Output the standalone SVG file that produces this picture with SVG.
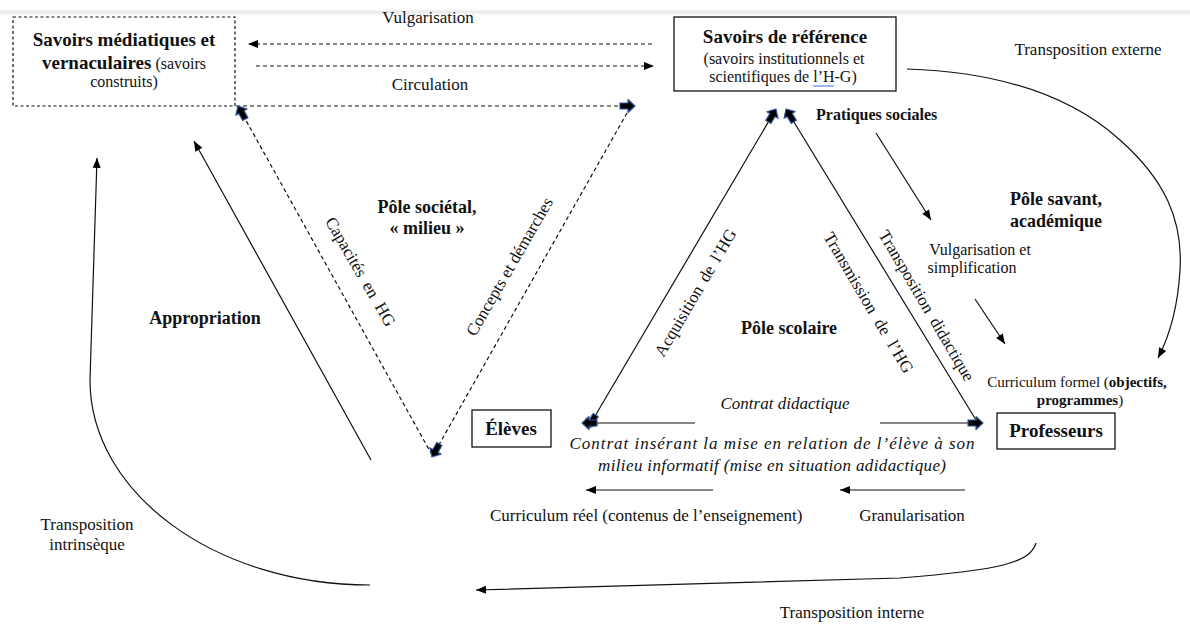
<svg xmlns="http://www.w3.org/2000/svg" width="1190" height="624" viewBox="0 0 1190 624">
<defs>
<linearGradient id="band" x1="0" y1="0" x2="0" y2="1">
<stop offset="0" stop-color="#ffffff"/>
<stop offset="0.4" stop-color="#e9e9e9"/>
<stop offset="1" stop-color="#ffffff"/>
</linearGradient>
<marker id="fat" markerUnits="userSpaceOnUse" markerWidth="20" markerHeight="16" viewBox="-1 -8 18 16" refX="15" refY="0" orient="auto-start-reverse">
<path d="M0,-3 L8,-3 L8,-6.5 L15,0 L8,6.5 L8,3 L0,3 Z" fill="#000" stroke="#35589a" stroke-width="1.2" stroke-linejoin="round"/>
</marker>
<marker id="tri" markerUnits="userSpaceOnUse" markerWidth="12" markerHeight="10" viewBox="0 -5 11 10" refX="10" refY="0" orient="auto">
<path d="M0,-4 L10,0 L0,4 Z" fill="#000"/>
</marker>
<style>
text{font-family:"Liberation Serif","Times New Roman",serif;fill:#111;}
.b{font-weight:bold;}
.t19{font-size:19px;}
.t18{font-size:18px;}
.t17{font-size:17px;}
.t16{font-size:16px;}
.t15{font-size:15px;}
.i{font-style:italic;}
.m{text-anchor:middle;}
.ln{fill:none;stroke:#111;stroke-width:1.2;}
.dsh{fill:none;stroke:#111;stroke-width:1.2;stroke-dasharray:4 3;}
.box{fill:#fff;stroke:#111;stroke-width:1.3;}
</style>
</defs>
<rect width="1190" height="624" fill="#fff"/>
<rect x="0" y="9" width="1190" height="7" fill="url(#band)"/>

<g id="connectors">
<!-- top dashed arrows -->
<line class="dsh" x1="652" y1="44" x2="248" y2="44" marker-end="url(#tri)"/>
<line class="dsh" x1="256" y1="66" x2="654" y2="66" marker-end="url(#tri)"/>
<!-- dashed triangle -->
<line class="dsh" x1="236" y1="106" x2="635" y2="106" marker-end="url(#fat)"/>
<line class="dsh" x1="432" y1="455" x2="238" y2="106" marker-end="url(#fat)"/>
<line class="dsh" x1="627" y1="113" x2="432" y2="457" marker-end="url(#fat)"/>
<!-- solid triangle -->
<line class="ln" x1="588" y1="428" x2="776" y2="109" marker-start="url(#fat)" marker-end="url(#fat)"/>
<line class="ln" x1="976" y1="420" x2="786" y2="109" marker-end="url(#fat)"/>
<line class="ln" x1="695" y1="423" x2="582" y2="423" marker-end="url(#fat)"/>
<line class="ln" x1="880" y1="423" x2="983" y2="423" marker-end="url(#fat)"/>
<!-- lower arrows -->
<line class="ln" x1="713" y1="490" x2="586" y2="490" marker-end="url(#tri)"/>
<line class="ln" x1="965" y1="490" x2="840" y2="490" marker-end="url(#tri)"/>
<!-- right side arrows -->
<line class="ln" x1="876" y1="133" x2="931" y2="220" marker-end="url(#tri)"/>
<line class="ln" x1="975" y1="299" x2="1005" y2="344" marker-end="url(#tri)"/>
<!-- transposition externe -->
<path class="ln" d="M907,69 C1000,72 1070,95 1120,140 C1165,180 1183,220 1180,270 C1178,305 1170,335 1158,358" marker-end="url(#tri)"/>
<!-- transposition interne -->
<path class="ln" d="M1036,543 C1030,563 1000,570 900,578 L476,590" marker-end="url(#tri)"/>
<!-- appropriation -->
<line class="ln" x1="371" y1="460" x2="194" y2="141" marker-end="url(#tri)"/>
<!-- transposition intrinseque -->
<path class="ln" d="M370,585 C215,585 90,493 90,380 L97,158" marker-end="url(#tri)"/>
</g>

<g id="node-mediatiques">
<rect x="13" y="17" width="222" height="89" fill="#fff" stroke="#111" stroke-width="1.2" stroke-dasharray="3 2.5"/>
<text class="b t19 m" x="124" y="46">Savoirs médiatiques et</text>
<text class="m" x="124" y="69"><tspan class="b t19">vernaculaires</tspan><tspan class="t16"> (savoirs</tspan></text>
<text class="t16 m" x="124" y="87">construits)</text>
</g>

<g id="node-reference">
<rect class="box" x="674" y="17" width="222" height="74"/>
<text class="b t19 m" x="785" y="43">Savoirs de référence</text>
<text class="t16 m" x="784" y="64">(savoirs institutionnels et</text>
<text class="t16 m" x="783" y="82">scientifiques de l’H-G)</text>
<line x1="813" y1="86" x2="834" y2="86" stroke="#3a6fd0" stroke-width="1"/>
</g>

<g id="node-eleves">
<rect class="box" x="472" y="410" width="79" height="37"/>
<text class="b t19 m" x="511" y="435">Élèves</text>
</g>

<g id="node-professeurs">
<rect class="box" x="997" y="413" width="118" height="36"/>
<text class="b t19 m" x="1056" y="437">Professeurs</text>
</g>

<g id="labels">
<text class="t17 m" x="428" y="23">Vulgarisation</text>
<text class="t17 m" x="430" y="90">Circulation</text>
<text class="t17 m" x="1088" y="55">Transposition externe</text>
<text class="b t16" x="816" y="120">Pratiques sociales</text>
<text class="b t18 m" x="1056" y="205">Pôle savant,</text>
<text class="b t18 m" x="1056" y="227">académique</text>
<text class="t16 m" x="980" y="255">Vulgarisation et</text>
<text class="t16 m" x="972" y="273">simplification</text>
<text class="t15 m" x="1077" y="387">Curriculum formel (<tspan class="b">objectifs,</tspan></text>
<text class="t15 m" x="1080" y="405"><tspan class="b">programmes</tspan>)</text>
<text class="b t18 m" x="427" y="213">Pôle sociétal,</text>
<text class="b t18 m" x="427" y="234">« milieu »</text>
<text class="b t18 m" x="789" y="334">Pôle scolaire</text>
<text class="b t18 m" x="205" y="324">Appropriation</text>
<text class="t17 m" x="87" y="530">Transposition</text>
<text class="t17 m" x="87" y="550">intrinsèque</text>
<text class="t17 i m" x="785" y="409">Contrat didactique</text>
<text class="t17 i m" x="772" y="449" textLength="405" lengthAdjust="spacing">Contrat insérant la mise en relation de l’élève à son</text>
<text class="t17 i m" x="772" y="471" textLength="348" lengthAdjust="spacing">milieu informatif (mise en situation adidactique)</text>
<text class="t17" x="490" y="521">Curriculum réel (contenus de l’enseignement)</text>
<text class="t17 m" x="912" y="521">Granularisation</text>
<text class="t17 m" x="852" y="618">Transposition interne</text>
<text class="t17 m" transform="translate(360,272) rotate(60)" y="5" word-spacing="4">Capacités en HG</text>
<text class="t17 m" transform="translate(510,267) rotate(-60)" y="5">Concepts et démarches</text>
<text class="t17 m" transform="translate(696,293) rotate(-59.5)" y="5" word-spacing="3">Acquisition de l’HG</text>
<text class="t17 m" transform="translate(868,303) rotate(59.5)" y="5" word-spacing="5">Transmission de l’HG</text>
<text class="t17 m" transform="translate(926,306) rotate(59.5)" y="5" word-spacing="4">Transposition didactique</text>
</g>
</svg>
